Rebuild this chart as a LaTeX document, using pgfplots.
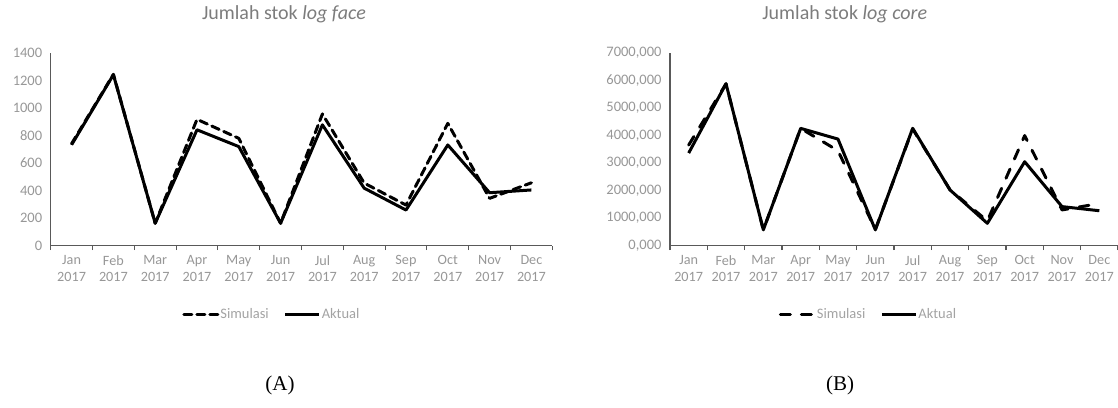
\documentclass[border=0pt]{standalone}
\usepackage{fontspec}
\setmainfont{Carlito}
\newfontfamily\capfont{Liberation Serif}
\usepackage{pgfplots}
\pgfplotsset{compat=1.18}

\definecolor{axisgray}{HTML}{595959}
\definecolor{ticktext}{HTML}{979797}
\definecolor{titletext}{HTML}{7C7C7C}
\definecolor{legtext}{HTML}{A3A3A3}

% monthly stock of log face
\pgfplotstableread{
m  sim   akt
0  741   733
1  1245  1242
2  163   163
3  918   842
4  780   720
5  163   163
6  957   878
7  455   418
8  295   259
9  889   732
10 344   385
11 457   405
}\faceTable

% monthly stock of log core
\pgfplotstableread{
m  sim   akt
0  3655  3365
1  5880  5885
2  575   575
3  4262  4262
4  3450  3873
5  590   575
6  4240  4265
7  2030  2025
8  900   813
9  4000  3050
10 1300  1420
11 1530  1270
}\coreTable

\pgfplotsset{
  stokchart/.style={
    scale only axis,
    height=192.7pt,
    xmin=-0.5, xmax=11.5, ymin=0,
    axis x line*=bottom, axis y line*=left,
    axis line style={axisgray, line width=1.4pt},
    xtick={0,...,11},
    xticklabels={{Jan\\2017},{Feb\\2017},{Mar\\2017},{Apr\\2017},{May\\2017},{Jun\\2017},{Jul\\2017},{Aug\\2017},{Sep\\2017},{Oct\\2017},{Nov\\2017},{Dec\\2017}},
    major tick length=0pt,
    minor xtick={-0.5,0.5,...,11.5},
    minor tick length=4.5pt,
    tick align=outside,
    minor x tick style={axisgray, line width=1.1pt},
    xticklabel style={align=center, font=\fontsize{14.2}{16.8}\selectfont, text=ticktext, yshift=-6pt},
    yticklabel style={font=\fontsize{14.5}{16}\selectfont, text=ticktext, xshift=-5pt},
    /pgf/number format/assume math mode=true,
    title style={font=\fontsize{20}{23}\selectfont, text=titletext, anchor=center},
    legend columns=2,
    legend cell align=left,
    legend style={draw=none, fill=none, anchor=center,
      font=\fontsize{14.5}{16}\selectfont, text=legtext,
      /tikz/every even column/.append style={column sep=14pt},
      nodes={inner sep=1pt}},
    legend image code/.code={\draw[##1] (0pt,0pt) -- (34pt,0pt);},
  },
}

\begin{document}
\begin{tikzpicture}
\useasboundingbox (0pt,0pt) rectangle (1118pt,407pt);

\begin{axis}[stokchart,
  at={(50.7pt,161.3pt)}, anchor=south west,
  width=501.6pt,
  ymax=1400, ytick={0,200,...,1400},
  yticklabel style={/pgf/number format/1000 sep={}},
  title={Jumlah stok \textit{log face}},
  title style={at={(axis description cs:0.465,1.17)}},
  legend style={at={(axis description cs:0.44,-0.355)}},
]
\addplot[black, line width=3pt, line cap=round, line join=round,
  dash pattern=on 8pt off 5pt] table[x=m, y=sim] {\faceTable};
\addlegendentry{Simulasi}
\addplot[black, line width=3pt, line join=round] table[x=m, y=akt] {\faceTable};
\addlegendentry{Aktual}
\end{axis}

\begin{axis}[stokchart,
  at={(670pt,161.3pt)}, anchor=south west,
  width=448pt,
  ymax=7000, ytick={0,1000,...,7000},
  yticklabel style={/pgf/number format/.cd, fixed, fixed zerofill, precision=3, use comma, 1000 sep={}},
  title={Jumlah stok \textit{log core}},
  title style={at={(axis description cs:0.39,1.17)}},
  legend style={at={(axis description cs:0.442,-0.355)}},
]
\addplot[black, line width=3pt, line cap=round, line join=round,
  dash pattern=on 10pt off 11pt] table[x=m, y=sim] {\coreTable};
\addlegendentry{Simulasi}
\addplot[black, line width=3pt, line join=round] table[x=m, y=akt] {\coreTable};
\addlegendentry{Aktual}
\end{axis}

\node[font=\capfont\fontsize{21}{24}\selectfont] at (280pt,22pt) {(A)};
\node[font=\capfont\fontsize{21}{24}\selectfont] at (840pt,22pt) {(B)};
\end{tikzpicture}
\end{document}
